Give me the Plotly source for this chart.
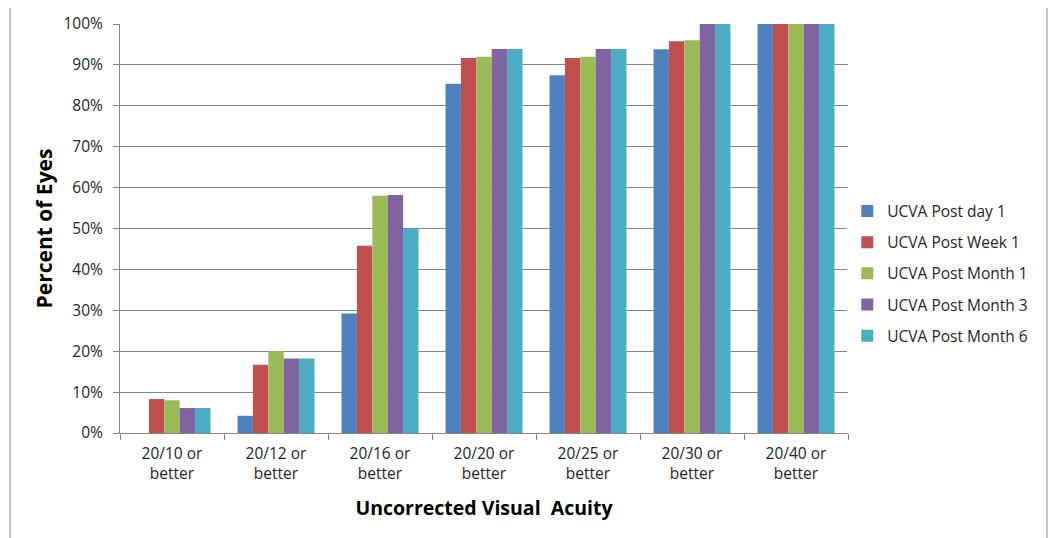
import plotly.graph_objects as go

categories = ["20/10 or<br>better", "20/12 or<br>better", "20/16 or<br>better", "20/20 or<br>better",
              "20/25 or<br>better", "20/30 or<br>better", "20/40 or<br>better"]
series_names = ["UCVA Post day 1", "UCVA Post Week 1", "UCVA Post Month 1",
                "UCVA Post Month 3", "UCVA Post Month 6"]
day1 = [0.0, 4.2, 29.2, 85.4, 87.5, 93.8, 100.0]
week1 = [8.3, 16.7, 45.8, 91.7, 91.7, 95.8, 100.0]
month1 = [8.0, 20.0, 58.0, 92.0, 92.0, 96.0, 100.0]
month3 = [6.1, 18.2, 58.2, 93.9, 93.9, 100.0, 100.0]
month6 = [6.1, 18.2, 50.0, 93.9, 93.9, 100.0, 100.0]
series_values = [day1, week1, month1, month3, month6]
colors = ["#4F81BD", "#C0504D", "#9BBB59", "#8064A2", "#4BACC6"]

fig = go.Figure()
for i, (name, vals) in enumerate(zip(series_names, series_values)):
    fig.add_trace(go.Bar(x=categories, y=[v / 100 for v in vals], name=name,
                         marker=dict(color=colors[i], line=dict(width=0)),
                         legendgroup=f"g{i}"))

font_family = "Open Sans, Liberation Sans, sans-serif"
fig.update_layout(
    width=1049, height=530,
    margin=dict(l=112, r=209, t=16, b=105, autoexpand=False),
    paper_bgcolor="white", plot_bgcolor="white",
    barmode="group", bargap=0.26, bargroupgap=0,
    font=dict(family=font_family, color="#262626"),
    legend=dict(x=0.999, y=0.39, xanchor="left", yanchor="middle",
                font=dict(size=15.5, color="#262626"), tracegroupgap=8,
                itemwidth=30),
    xaxis=dict(showline=True, linecolor="#868686", linewidth=1,
               ticks="outside", tickson="boundaries", ticklen=6, tickcolor="#868686",
               tickfont=dict(size=15.5, color="#262626"), ticklabelstandoff=6,
               title=dict(text="<b>Uncorrected Visual  Acuity</b>", font=dict(size=19.5, color="#000000"),
                          standoff=18)),
    yaxis=dict(range=[0, 1], tickformat=".0%", dtick=0.1,
               showline=True, linecolor="#868686", linewidth=1,
               ticks="outside", ticklen=6, tickcolor="#868686",
               showgrid=True, gridcolor="#868686", gridwidth=1,
               tickfont=dict(size=15.5, color="#262626"), ticklabelstandoff=7,
               title=dict(text="<b>Percent of Eyes</b>", font=dict(size=21, color="#000000"),
                          standoff=5)),
    shapes=[dict(type="rect", xref="paper", yref="paper",
                 x0=(10 - 120) / 728, x1=(1047 - 120) / 728,
                 y0=-0.3, y1=(433 - 6) / 409,
                 line=dict(color="#868686", width=1), layer="below")]
)

fig.write_html("out.html")
